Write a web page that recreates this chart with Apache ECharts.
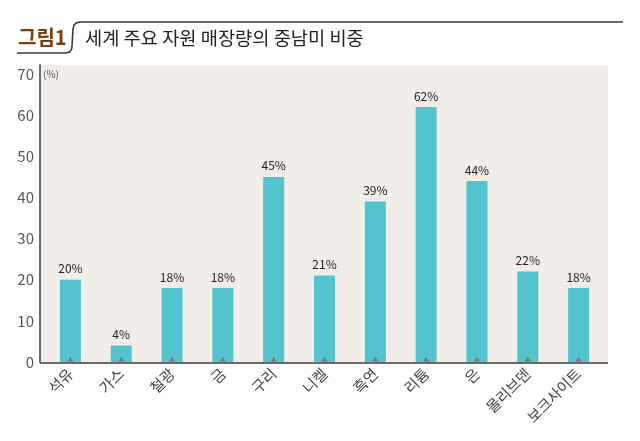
<!DOCTYPE html>
<html><head><meta charset="utf-8">
<script src="https://cdn.jsdelivr.net/npm/echarts@6/dist/echarts.min.js"></script>
<style>html,body{margin:0;padding:0;background:#fff}#c{width:640px;height:441px}</style>
</head><body><div id="c"></div>
<script>
const categories = ['석유','가스','철광','금','구리','니켈','흑연','리튬','은','몰리브덴','보크사이트'];
const shares = [20,4,18,18,45,21,39,62,44,22,18];
const yTicks = [0,10,20,30,40,50,60,70];
const titleTag = '그림1';
const titleText = '세계 주요 자원 매장량의 중남미 비중';
const unitText = '(%)';

const chart = echarts.init(document.getElementById('c'), null, {renderer:'canvas'});
const font = '"Noto Sans CJK KR","Noto Sans",sans-serif';
chart.setOption({
  backgroundColor:'#fff',
  animation:false,
  graphic:[
    {type:'rect', z:-10, shape:{x:40,y:65,width:568,height:297}, style:{fill:'#f1eeea'}},
    {type:'line', z:5, shape:{x1:40,y1:363,x2:608,y2:363}, style:{stroke:'#6b6b6b',lineWidth:2}},
    {type:'polyline', shape:{points:[[17,53],[66,53],[69.5,52],[71.5,49.5],[72,46],[73,29],[74,25],[77,22.6],[81,22],[623,22]]}, style:{fill:null,stroke:'#3a3a3a',lineWidth:1.6}},
    {type:'text', left:18, top:27, style:{text:titleTag, font:'bold 20px '+font, fill:'#7b3f12'}},
    {type:'text', left:85, top:29, style:{text:titleText, font:'18.7px '+font, fill:'#222'}},
    {type:'text', left:43, top:69, style:{text:unitText, font:'10px '+font, fill:'#555'}}
  ],
  grid:{left:45, right:36, top:65, bottom:79, containLabel:false},
  xAxis:{type:'category', data:categories,
    axisLine:{show:false}, axisTick:{show:false},
    axisLabel:{rotate:45, color:'#444', fontSize:15, fontFamily:font, margin:9}},
  yAxis:{type:'value', min:0, max:72.2, interval:10, offset:5,
    axisLine:{show:true, lineStyle:{color:'#6b6b6b', width:2}},
    axisTick:{show:false}, splitLine:{show:false},
    axisLabel:{showMaxLabel:false, color:'#555', fontSize:15, fontFamily:font, margin:6,
      formatter:v=> yTicks.includes(v) ? String(v) : ''}},
  series:[
    {type:'bar', data:shares, barWidth:21, itemStyle:{color:'#53c3ce'},
     label:{show:true, position:'top', distance:5, formatter:'{c}%', color:'#222', fontSize:12, fontFamily:font}},
    {type:'scatter', data:shares.map(()=>0), symbol:'triangle', symbolSize:[6,5], symbolOffset:[0,-3],
     itemStyle:{color:'#6e6e6e'}, z:6, silent:true}
  ]
});
</script></body></html>
